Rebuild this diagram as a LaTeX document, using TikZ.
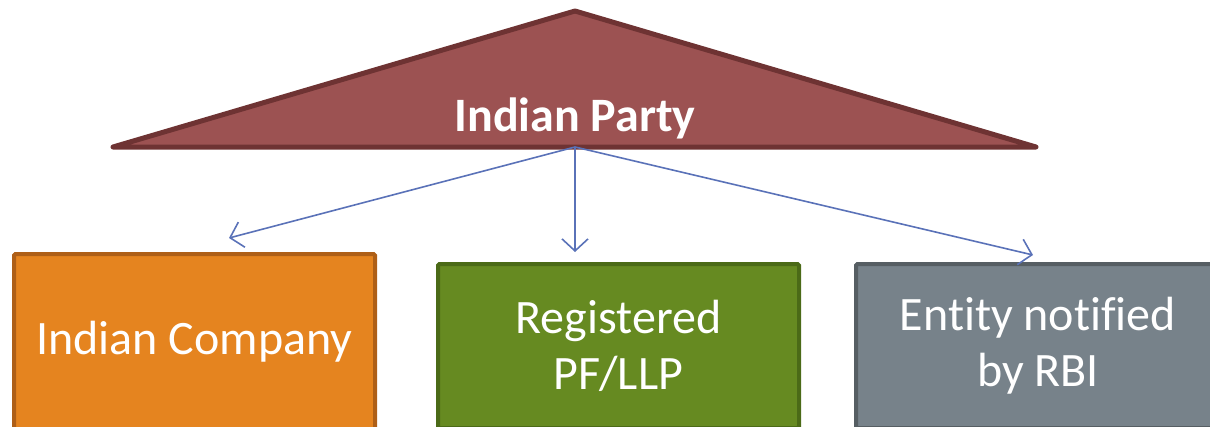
\documentclass[tikz,border=0pt]{standalone}
\usepackage{fontspec}
\setmainfont{Carlito}[Ligatures=NoCommon]
\definecolor{trifill}{HTML}{9C5252}
\definecolor{triline}{HTML}{6E3333}
\definecolor{orfill}{HTML}{E5841F}
\definecolor{orline}{HTML}{AE5F17}
\definecolor{grfill}{HTML}{668A21}
\definecolor{grline}{HTML}{4B6A17}
\definecolor{gyfill}{HTML}{77828A}
\definecolor{gyline}{HTML}{565E63}
\definecolor{arrowc}{HTML}{5A72B8}
\usetikzlibrary{arrows.meta}
\tikzset{
  boxstyle/.style={draw, line width=4pt, rounded corners=1.5pt, inner sep=0pt, text=white, align=center,
    font=\fontsize{48}{56}\selectfont, minimum width=361pt},
  conn/.style={draw=arrowc, line width=1.6pt, -{Straight Barb[length=12pt,width=26pt,line width=1.6pt]}},
}
\begin{document}
\begin{tikzpicture}[x=1pt,y=-1pt]
\useasboundingbox (0,0) rectangle (1210,426);
\clip (0,0) rectangle (1210,426);
% triangle
\coordinate (apex) at (575,11);
\coordinate (tl) at (113,147);
\coordinate (tr) at (1036,147);
\coordinate (tb) at (575,147);
\draw[fill=trifill, draw=triline, line width=5pt, line join=round, line cap=round] (apex) -- (tr) -- (tl) -- cycle;
\node[anchor=base, text=white, font=\fontsize{48}{56}\selectfont\bfseries] (party) at (575,131) {Indian Party};
% boxes
\node[boxstyle, fill=orfill, draw=orline, minimum height=176pt] (company) at (194.5,342) {Indian Company};
\node[boxstyle, fill=grfill, draw=grline, minimum height=164pt] (pf) at (618.5,346) {Registered\\PF/LLP};
\node[boxstyle, fill=gyfill, draw=gyline, minimum height=164pt, minimum width=364pt] (entity) at (1038,346) {Entity notified\\by RBI};
% arrow tips
\coordinate (t1) at (229,238);
\coordinate (t2) at (575,252);
\coordinate (t3) at (1033,255);
\draw[conn] (tb) -- (t1);
\draw[conn] (tb) -- (t2);
\draw[conn] (tb) -- (t3);
\end{tikzpicture}
\end{document}
